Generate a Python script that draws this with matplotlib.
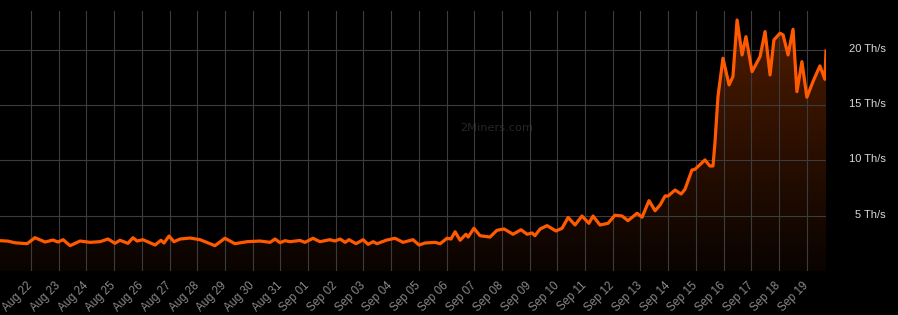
import matplotlib
matplotlib.use('Agg')
import matplotlib.pyplot as plt
import matplotlib.dates as mdates
import matplotlib.transforms as mtransforms
import numpy as np
import pandas as pd

# days since 2022-08-22 00:00 and pool hashrate in Th/s
day_offsets = [
    -1.12, -0.83, -0.58, -0.32, -0.14, 0.14, 0.51, 0.79, 0.97, 1.16,
    1.41, 1.77, 2.13, 2.49, 2.78, 3.03, 3.21, 3.50, 3.68, 3.83,
    4.04, 4.48, 4.69, 4.80, 4.98, 5.16, 5.38, 5.74, 6.10, 6.64,
    7.00, 7.36, 7.80, 8.27, 8.63, 8.81, 8.99, 9.17, 9.35, 9.71,
    9.89, 10.18, 10.43, 10.79, 10.97, 11.16, 11.34, 11.48, 11.73, 11.99,
    12.17, 12.35, 12.49, 12.82, 13.14, 13.43, 13.79, 14.01, 14.22, 14.58,
    14.77, 15.02, 15.16, 15.31, 15.49, 15.70, 15.78, 15.99, 16.21, 16.57,
    16.82, 17.08, 17.40, 17.69, 17.91, 18.09, 18.19, 18.38, 18.63, 18.95,
    19.17, 19.39, 19.64, 19.89, 20.14, 20.29, 20.54, 20.83, 21.08, 21.34,
    21.55, 21.88, 22.06, 22.31, 22.53, 22.71, 22.89, 23.00, 23.25, 23.47,
    23.61, 23.86, 23.97, 24.33, 24.51, 24.62, 24.69, 24.80, 24.98, 25.20,
    25.34, 25.49, 25.67, 25.81, 26.03, 26.32, 26.50, 26.68, 26.82, 27.04,
    27.15, 27.33, 27.51, 27.65, 27.83, 28.01, 28.23, 28.48, 28.66, 28.70,
]
hashrate = [
    2.74, 2.70, 2.55, 2.50, 2.47, 3.01, 2.62, 2.80, 2.62, 2.83,
    2.29, 2.71, 2.59, 2.65, 2.89, 2.50, 2.78, 2.50, 3.01, 2.71,
    2.83, 2.35, 2.78, 2.53, 3.16, 2.65, 2.89, 2.98, 2.83, 2.29,
    2.96, 2.47, 2.65, 2.71, 2.59, 2.89, 2.56, 2.74, 2.65, 2.76,
    2.59, 2.96, 2.65, 2.83, 2.71, 2.89, 2.59, 2.83, 2.47, 2.83,
    2.41, 2.65, 2.47, 2.78, 2.96, 2.59, 2.83, 2.35, 2.53, 2.59,
    2.47, 2.96, 2.89, 3.55, 2.78, 3.32, 3.07, 3.86, 3.19, 3.07,
    3.68, 3.80, 3.32, 3.73, 3.32, 3.44, 3.19, 3.80, 4.10, 3.62,
    3.86, 4.84, 4.16, 4.97, 4.31, 4.97, 4.16, 4.31, 5.04, 4.97,
    4.55, 5.22, 4.86, 6.36, 5.45, 5.97, 6.78, 6.78, 7.32, 6.96,
    7.39, 9.13, 9.19, 10.04, 9.49, 9.49, 11.55, 15.76, 19.23, 16.82,
    17.57, 22.69, 19.53, 21.18, 18.02, 19.38, 21.64, 17.72, 20.89, 21.49,
    21.34, 19.53, 21.85, 16.21, 18.92, 15.71, 17.12, 18.54, 17.33, 19.92,
]
y_ticks = [5, 10, 15, 20]
y_labels = [f'{v} Th/s' for v in y_ticks]
tick_days = pd.date_range('2022-08-22', '2022-09-19', freq='D')
tick_labels = [d.strftime('%b %d') for d in tick_days]

plt.rcParams['font.family'] = ['Liberation Sans', 'DejaVu Sans']

start = pd.Timestamp('2022-08-22')
times = start + pd.to_timedelta(day_offsets, unit='D')
x = mdates.date2num(times.to_pydatetime())
y = np.array(hashrate)
ymax = 23.5

fig = plt.figure(figsize=(8.98, 3.15), dpi=100, facecolor='black')
ax = fig.add_axes([0, 44 / 315, 826 / 898, 260 / 315])
ax.set_facecolor('black')

# gradient fill under the line
poly = ax.fill_between(x, 0, y, color='none', lw=0)
grad = np.zeros((256, 1, 4))
grad[..., 0] = 1.0
grad[..., 1] = 0.35
grad[:, 0, 3] = np.linspace(0.04, 0.32, 256)
img = ax.imshow(grad, extent=[x[0], x[-1], 0, ymax], origin='lower',
                aspect='auto', zorder=1, interpolation='bilinear')
img.set_clip_path(poly.get_paths()[0], transform=ax.transData)

ax.plot(x, y, color='#ff5a00', lw=2.3, solid_joinstyle='round',
        solid_capstyle='round', zorder=3)

ax.text(0.6017, 0.55, '2Miners.com', transform=ax.transAxes, color='#262626',
        fontsize=8.2, family='DejaVu Sans', ha='center', va='center', zorder=1.5)

ax.set_xlim(x[0], x[-1])
ax.set_ylim(0, ymax)

ax.set_xticks(mdates.date2num(tick_days.to_pydatetime()))
ax.set_xticklabels(tick_labels, rotation=45, ha='right', va='center',
                   rotation_mode='anchor')
ax.tick_params(axis='x', length=0, pad=9.4, labelcolor='#8a8a8a', labelsize=8.3)

ax.yaxis.tick_right()
ax.set_yticks(y_ticks)
ax.set_yticklabels(y_labels)
ax.tick_params(axis='y', length=0, pad=43.2, labelcolor='#d8d8d8', labelsize=8)
shift_up = mtransforms.ScaledTranslation(0, 2 / 100, fig.dpi_scale_trans)
for lab in ax.get_yticklabels():
    lab.set_ha('right')
    lab.set_transform(lab.get_transform() + shift_up)

ax.grid(True, color='#3c3c3c', lw=0.8, zorder=2)
for s in ax.spines.values():
    s.set_visible(False)

fig.savefig('out.png', dpi=100, facecolor='black')
